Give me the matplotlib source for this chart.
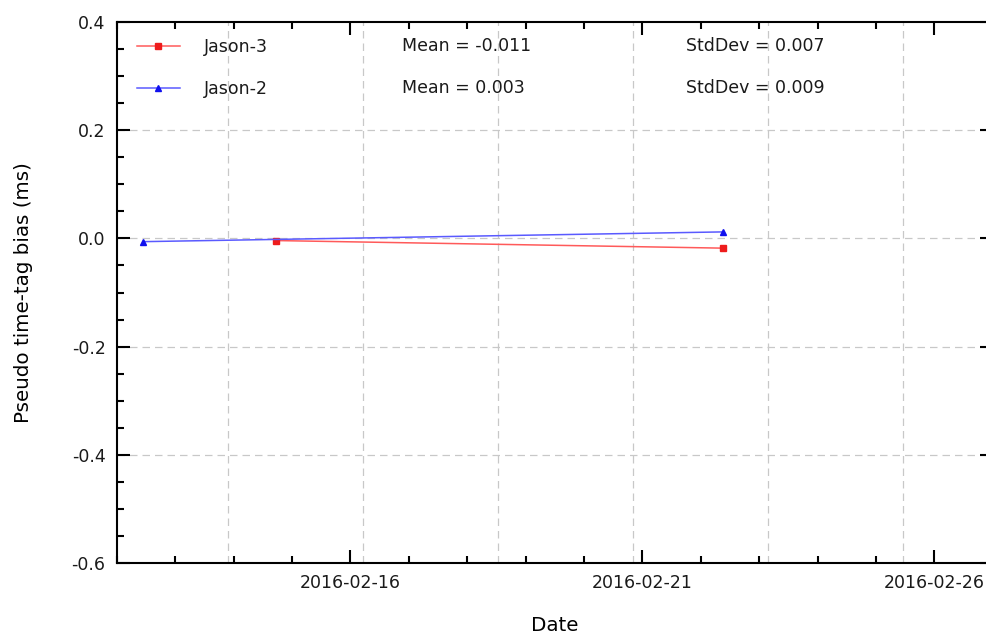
import matplotlib
matplotlib.use("Agg")
import matplotlib.pyplot as plt
import matplotlib.dates as mdates
import pandas as pd

# data
j3_dates = pd.to_datetime(["2016-02-14 17:30", "2016-02-22 09:00"])
j3_bias = [-0.004, -0.018]
j2_dates = pd.to_datetime(["2016-02-12 11:00", "2016-02-22 09:00"])
j2_bias = [-0.006, 0.012]
names = ["Jason-3", "Jason-2"]
means = ["Mean = -0.011", "Mean = 0.003"]
stds = ["StdDev = 0.007", "StdDev = 0.009"]

# the odd vertical grid positions of the original
vgrid = pd.to_datetime("2016-02-12") + pd.to_timedelta([1.911 + 2.3116 * k for k in range(6)], unit="D")

plt.rcParams["font.family"] = "DejaVu Sans"
plt.rcParams["font.size"] = 12.5
plt.rcParams["text.color"] = "#1a1a1a"

fig = plt.figure(figsize=(9.87, 6.36), dpi=100)
ax = fig.add_axes([116.7 / 987, 73 / 636, 876 / 987, 541 / 636])

ax.plot(j3_dates, j3_bias, color="#ff5a5a", lw=1.1, marker="s", ms=5,
        mfc="#ee1c1c", mec="#ee1c1c", label=names[0])
ax.plot(j2_dates, j2_bias, color="#5a5aff", lw=1.1, marker="^", ms=5,
        mfc="#1010ee", mec="#1010ee", label=names[1])

ax.set_xlim(pd.Timestamp("2016-02-12"), pd.Timestamp("2016-02-27"))
ax.set_ylim(-0.6, 0.4)
ax.set_yticks([-0.6, -0.4, -0.2, 0.0, 0.2, 0.4])
ax.set_yticks([v / 100 for v in range(-60, 41, 5)], minor=True)
ax.yaxis.set_major_formatter(matplotlib.ticker.FormatStrFormatter("%.1f"))

ax.xaxis.set_major_locator(mdates.DayLocator(bymonthday=[1, 6, 11, 16, 21, 26]))
ax.xaxis.set_minor_locator(mdates.DayLocator())
ax.xaxis.set_major_formatter(mdates.DateFormatter("%Y-%m-%d"))

ax.tick_params(which="both", direction="in", top=True, right=True, width=1.5,
               labelcolor="#1a1a1a")
ax.tick_params(which="major", length=9.5, pad=8)
ax.tick_params(which="minor", length=4.8)
for s in ax.spines.values():
    s.set_linewidth(1.5)

gkw = dict(color="#c8c8c8", lw=0.9, ls=(0, (6, 4)), zorder=0)
for y in [-0.4, -0.2, 0.0, 0.2]:
    ax.axhline(y, **gkw)
for d in vgrid:
    ax.axvline(d, **gkw)

ax.legend(loc="upper left", bbox_to_anchor=(0.005, 0.999), frameon=False,
          handlelength=2.5, handletextpad=1.35, labelspacing=1.35)
for i in range(2):
    yy = [0.9556, 0.878][i]
    ax.text(0.3257, yy, means[i], transform=ax.transAxes, va="center", ha="left")
    ax.text(0.650, yy, stds[i], transform=ax.transAxes, va="center", ha="left")

ax.set_xlabel("Date", labelpad=17, fontsize=14.3)
ax.set_ylabel("Pseudo time-tag bias (ms)", labelpad=28, fontsize=14.3)

fig.savefig("out.png", dpi=100)
